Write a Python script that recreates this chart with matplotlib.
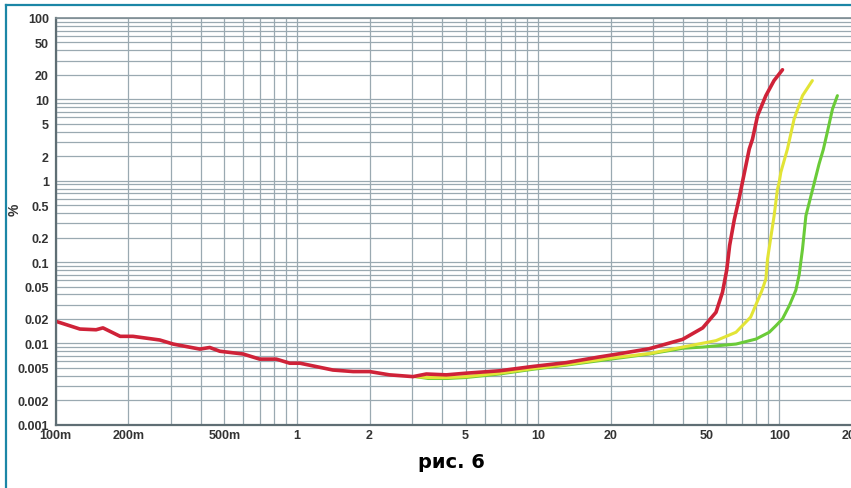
import matplotlib.pyplot as plt
import matplotlib.ticker as mticker
from matplotlib.lines import Line2D

# --- data (x in units, y in %) ---
red_x = [0.1, 0.126, 0.147, 0.157, 0.17, 0.185, 0.209, 0.27, 0.307, 0.396, 0.435,
         0.479, 0.598, 0.701, 0.822, 0.934, 1.03, 1.41, 1.71, 2.0, 2.42, 3.03, 3.44,
         4.16, 5.03, 6.92, 9.5, 13.1, 17.9, 22, 28.9, 39.7, 48.1, 54.6, 58.1, 60.5,
         62.2, 65, 68.2, 72.6, 75, 77.4, 81.2, 87.9, 95, 103]
red_y = [0.0187, 0.0150, 0.0147, 0.0155, 0.0138, 0.0122, 0.0122, 0.0110, 0.0098,
         0.0085, 0.0089, 0.0080, 0.0074, 0.0064, 0.0064, 0.0057, 0.0057, 0.0047,
         0.0045, 0.0045, 0.0041, 0.0039, 0.0042, 0.0041, 0.0043, 0.0046, 0.0052,
         0.0058, 0.0068, 0.0075, 0.0086, 0.0112, 0.0155, 0.0241, 0.0425, 0.08,
         0.16, 0.33, 0.62, 1.53, 2.45, 3.26, 6.3, 11.1, 17.0, 23.1]

yellow_x = [3.1, 3.5, 4.2, 5.0, 6.9, 9.5, 13.1, 20, 28.9, 39.7, 54.6, 66.1, 76,
            84.5, 87.9, 89.3, 95.1, 98.2, 99.8, 101.4, 108, 115.1, 124.7, 137]
yellow_y = [0.0039, 0.0038, 0.0038, 0.0039, 0.0043, 0.0049, 0.0055, 0.0066, 0.0075,
            0.0090, 0.0108, 0.0137, 0.021, 0.044, 0.0618, 0.109, 0.371, 0.79,
            0.955, 1.27, 2.45, 5.73, 11.1, 17.0]

green_x = [3.1, 3.5, 4.2, 5.0, 6.9, 9.5, 13.1, 20, 28.9, 39.7, 48.1, 66.1, 80,
           90.8, 96.8, 103, 109.9, 117, 120.8, 124.7, 128.8, 139, 146, 152, 158,
           166, 174]
green_y = [0.0039, 0.0037, 0.0037, 0.0038, 0.0042, 0.0048, 0.0054, 0.0064, 0.0074,
           0.0087, 0.0090, 0.0098, 0.0113, 0.0137, 0.0165, 0.0200, 0.029, 0.045,
           0.07, 0.1445, 0.371, 0.9, 1.6, 2.4, 3.94, 7.6, 11.1]

x_ticks = [0.1, 0.2, 0.5, 1, 2, 5, 10, 20, 50, 100, 200]
x_labels = ['100m', '200m', '500m', '1', '2', '5', '10', '20', '50', '100', '200']
y_ticks = [0.001, 0.002, 0.005, 0.01, 0.02, 0.05, 0.1, 0.2, 0.5, 1, 2, 5, 10, 20, 50, 100]
y_labels = ['0.001', '0.002', '0.005', '0.01', '0.02', '0.05', '0.1', '0.2', '0.5',
            '1', '2', '5', '10', '20', '50', '100']

grid_color = '#9aa9b1'
label_color = '#333333'

fig = plt.figure(figsize=(8.51, 4.89), dpi=100)
ax = fig.add_axes([55.7 / 851, 63.3 / 489, (852 - 55.7) / 851, 406.7 / 489])

ax.set_xscale('log')
ax.set_yscale('log')
ax.set_xlim(0.1, 200)
ax.set_ylim(0.001, 100)

ax.xaxis.set_major_locator(mticker.FixedLocator(x_ticks))
ax.xaxis.set_major_formatter(mticker.FixedFormatter(x_labels))
ax.yaxis.set_major_locator(mticker.FixedLocator(y_ticks))
ax.yaxis.set_major_formatter(mticker.FixedFormatter(y_labels))
ax.xaxis.set_minor_locator(mticker.LogLocator(base=10, subs=range(1, 10), numticks=50))
ax.yaxis.set_minor_locator(mticker.LogLocator(base=10, subs=range(1, 10), numticks=50))
ax.xaxis.set_minor_formatter(mticker.NullFormatter())
ax.yaxis.set_minor_formatter(mticker.NullFormatter())

ax.grid(True, which='both', color=grid_color, linewidth=0.9)
ax.set_axisbelow(True)
ax.tick_params(which='both', length=0)
ax.tick_params(axis='x', pad=3)
ax.tick_params(axis='y', pad=5)
for lab in ax.get_xticklabels() + ax.get_yticklabels():
    lab.set_fontsize(9)
    lab.set_fontweight('bold')
    lab.set_color(label_color)
    lab.set_family('Liberation Sans')

for side in ['left', 'bottom']:
    ax.spines[side].set_color('#5f6e74')
    ax.spines[side].set_linewidth(1.6)
ax.spines['top'].set_color('#7d8c92')
ax.spines['top'].set_linewidth(1.2)
ax.spines['right'].set_visible(False)

# curves, red last so it sits on top in the flat region
ax.plot(green_x, green_y, color='#6acb38', linewidth=2.2, solid_capstyle='round')
ax.plot(yellow_x, yellow_y, color='#e2e436', linewidth=2.2, solid_capstyle='round')
ax.plot(red_x, red_y, color='#cf2238', linewidth=2.6, solid_capstyle='round')

fig.text(15 / 851, 1 - 210 / 489, '%', rotation=90, ha='center', va='center',
         fontsize=10, fontweight='bold', color=label_color, family='Liberation Sans')

fig.text(451 / 851, 1 - 463 / 489, 'рис. 6', ha='center', va='center',
         fontsize=14, fontweight='bold', color='black', family='DejaVu Sans')

# teal frame on the top and left edges
border = '#1b86a6'
fig.add_artist(Line2D([6 / 851, 1], [1 - 6 / 489, 1 - 6 / 489], color=border,
                      linewidth=1.6, transform=fig.transFigure))
fig.add_artist(Line2D([6 / 851, 6 / 851], [0, 1 - 6 / 489], color=border,
                      linewidth=1.6, transform=fig.transFigure))

fig.savefig('out.png', dpi=100)
